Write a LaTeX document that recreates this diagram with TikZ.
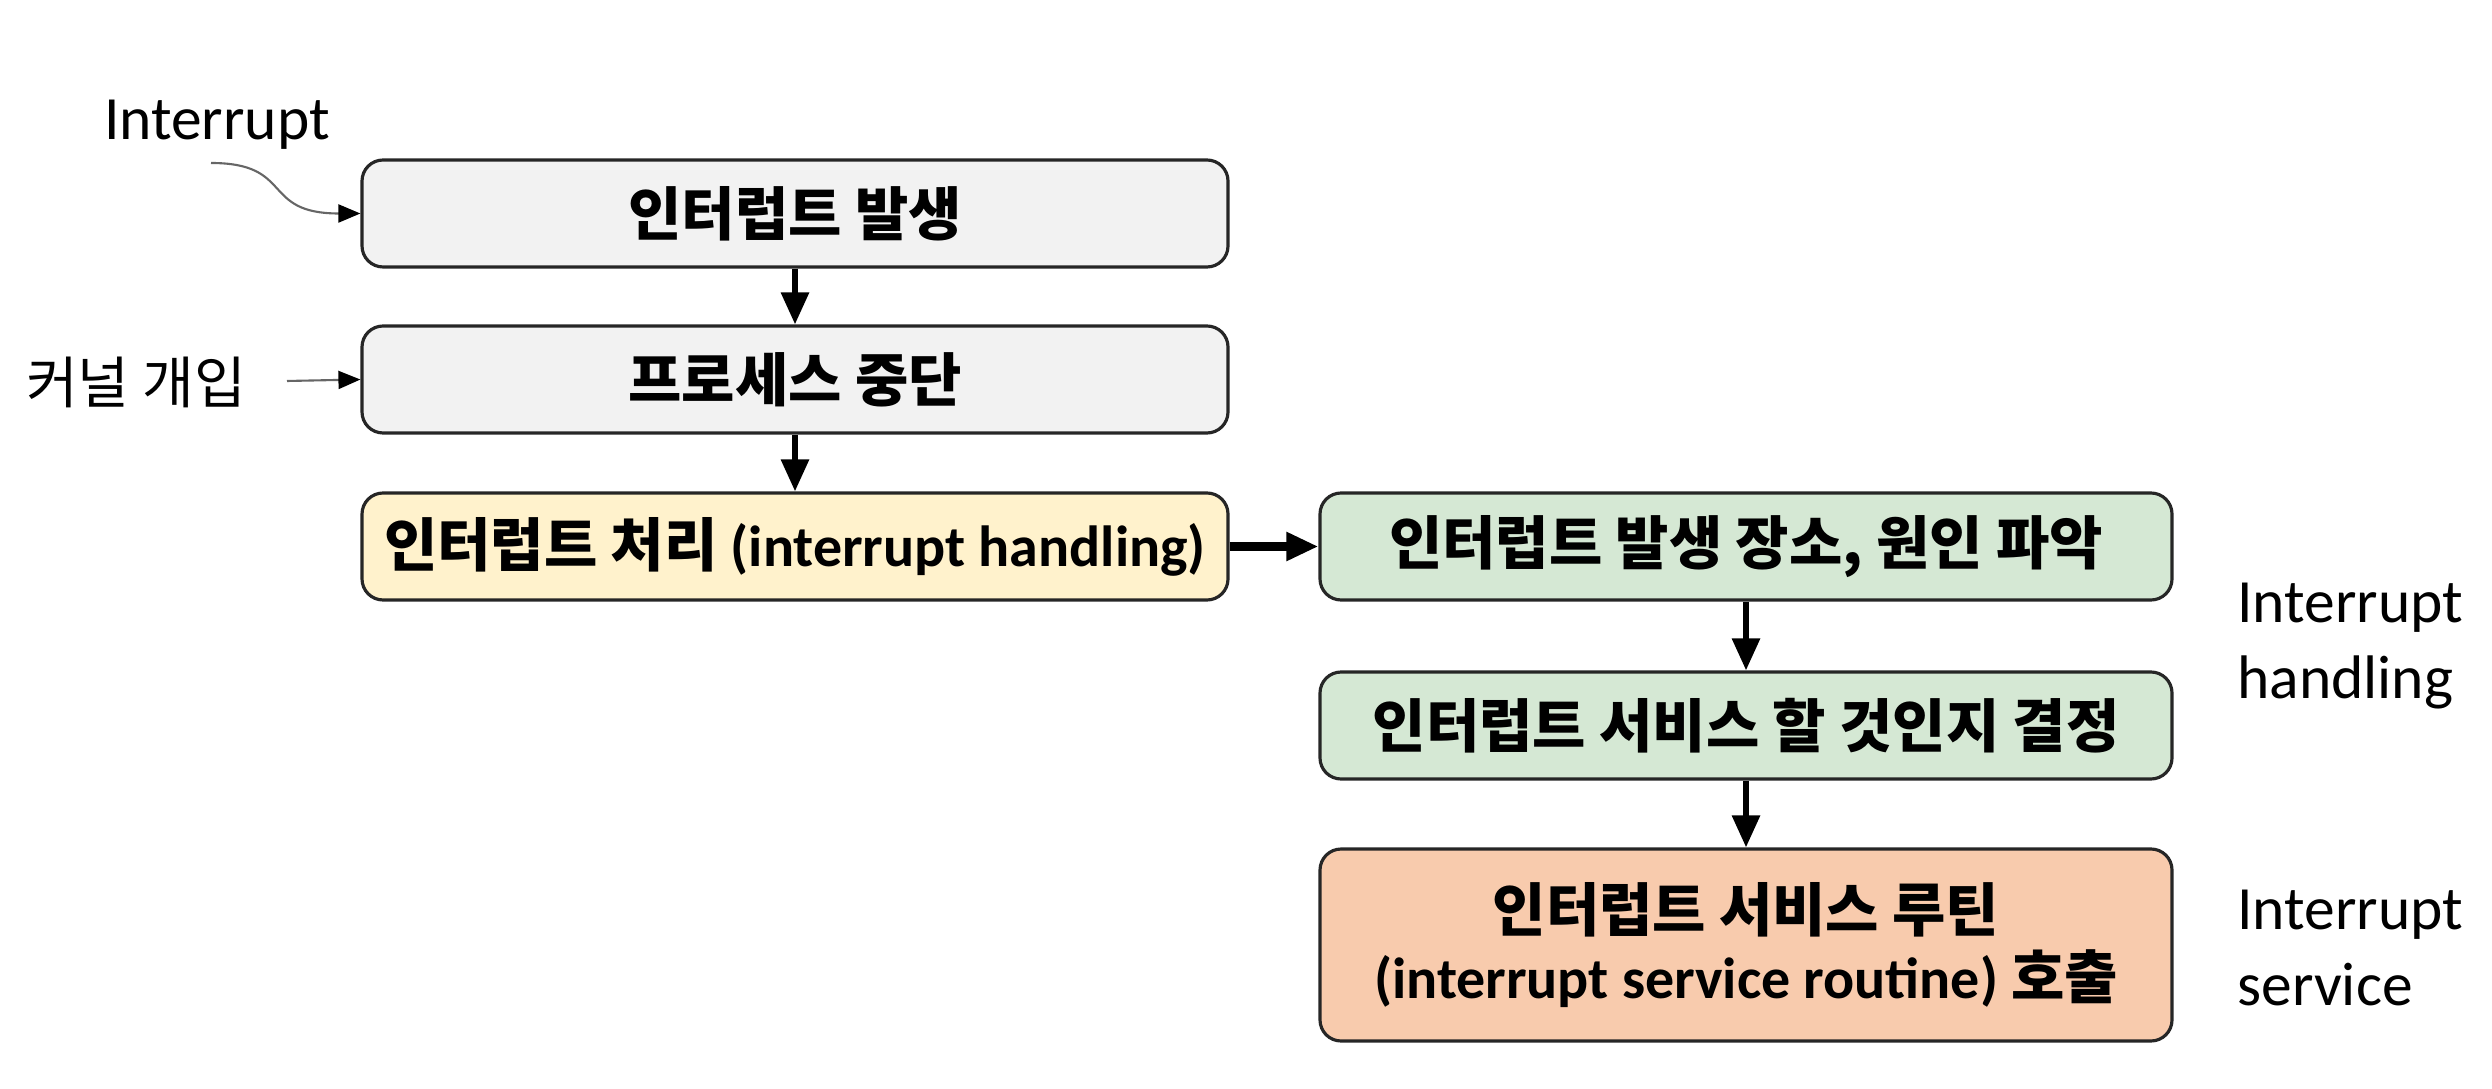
\documentclass[tikz,border=0pt]{standalone}
\usepackage{fontspec}
\setmainfont{Carlito}
\newfontfamily\kr{Noto Sans CJK KR}
\usetikzlibrary{arrows.meta}
\definecolor{boxgray}{HTML}{F2F2F2}
\definecolor{boxyellow}{HTML}{FFF2CC}
\definecolor{boxgreen}{HTML}{D5E8D4}
\definecolor{boxorange}{HTML}{F8CBAD}
\begin{document}
\begin{tikzpicture}[
    box/.style={draw=black!85, line width=0.9pt, rounded corners=6pt, align=center,
      minimum height=1.07cm, font=\bfseries\fontsize{16.5}{19}\selectfont},
    flow/.style={-{Triangle[length=3.2mm,width=2.7mm]}, line width=1.7pt},
    hint/.style={draw=black!60, line width=0.6pt, -{Triangle[length=2.2mm,width=1.8mm,color=black]}},
    side/.style={font=\fontsize{17.5}{21.5}\selectfont, align=left},
]
    \useasboundingbox (0,0) rectangle (24.92,10.88);

    % Left column
    \node[box, fill=boxgray, minimum width=8.66cm] (occur) at (7.95,8.745) {\kr 인터럽트 발생};
    \node[box, fill=boxgray, minimum width=8.66cm] (stop) at (7.95,7.085) {\kr 프로세스 중단};
    \node[box, fill=boxyellow, minimum width=8.66cm] (handle) at (7.95,5.415)
        {{\kr 인터럽트 처리} (interrupt handling)};
    \draw[flow] (occur) -- (stop);
    \draw[flow] (stop) -- (handle);

    % Inputs on the left
    \node[side] (irq) at (2.17,9.63) {Interrupt};
    \node[side, font=\kr\fontsize{16}{19}\selectfont] (kernel) at (1.36,7.06) {커널 개입};
    \coordinate (irqend) at (2.11,9.25);
    \coordinate (kernelend) at (2.87,7.07);
    \draw[hint] (irqend) .. controls (2.95,9.25) and (2.6,8.745) .. (occur.west);
    \draw[hint] (kernelend) -- (stop.west);

    % Right column
    \node[box, fill=boxgreen, minimum width=8.52cm] (locate) at (17.46,5.415) {\kr 인터럽트 발생 장소, 원인 파악};
    \node[box, fill=boxgreen, minimum width=8.52cm] (decide) at (17.46,3.625) {\kr 인터럽트 서비스 할 것인지 결정};
    \node[box, fill=boxorange, minimum width=8.52cm, minimum height=1.92cm] (isr) at (17.46,1.43)
        {{\kr 인터럽트 서비스 루틴}\\(interrupt service routine) {\kr 호출}};
    \draw[flow, line width=2.4pt] (handle) -- (locate);
    \draw[flow] (locate) -- (decide);
    \draw[flow] (decide) -- (isr);

    % Phase labels
    \node[side, anchor=west] (phaseh) at (22.25,4.42) {Interrupt\\handling};
    \node[side, anchor=west] (phases) at (22.25,1.40) {Interrupt\\service};
\end{tikzpicture}
\end{document}
